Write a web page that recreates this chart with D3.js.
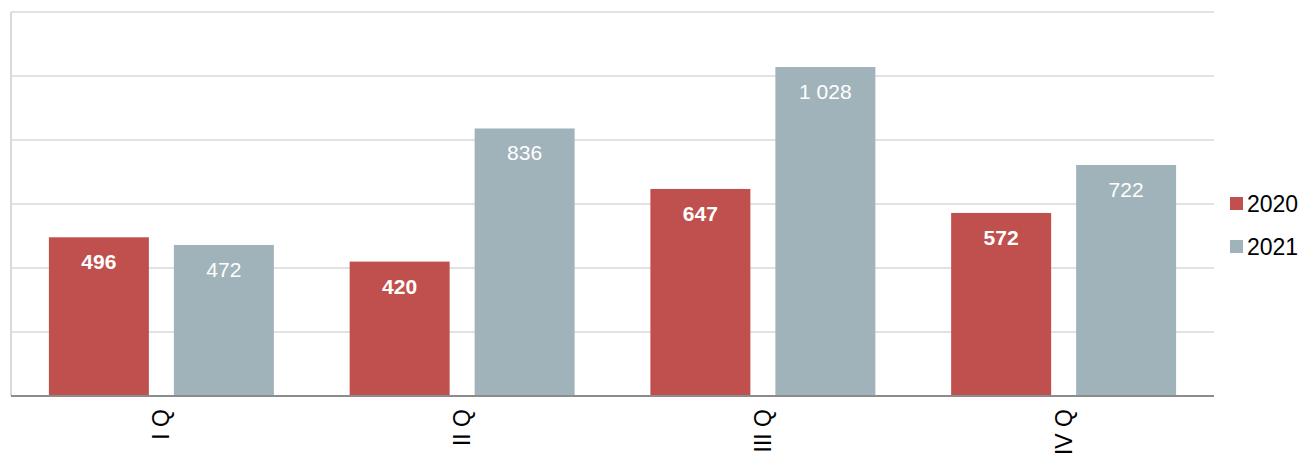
<!DOCTYPE html>
<html><head><meta charset="utf-8">
<script src="https://cdn.jsdelivr.net/npm/d3@7"></script>
<style>body{margin:0;background:#fff}svg{display:block;font-family:"Liberation Sans",Arial,sans-serif}</style>
</head><body><svg id="c" width="1302" height="462"></svg>
<script>
const categories = ["I Q", "II Q", "III Q", "IV Q"];
const seriesNames = ["2020", "2021"];
const values2020 = [496, 420, 647, 572];
const values2021 = [472, 836, 1028, 722];
const yTicks = [0, 200, 400, 600, 800, 1000, 1200];
const colors = {"2020": "#c0504d", "2021": "#a1b3ba"};

(function () {
const svg = d3.select("#c");
const pLeft = 11, pRight = 1214, pTop = 12, pBottom = 396;
const x0 = d3.scaleBand().domain(categories).range([pLeft, pRight]).padding(0);
const bw = x0.bandwidth();
const x1 = d3.scaleBand().domain(seriesNames).range([bw * 0.126, bw * 0.874]).paddingInner(0.2).paddingOuter(0);
const y = d3.scaleLinear().domain([0, 1200]).range([pBottom, pTop]);

svg.append("g").selectAll("line").data(yTicks.filter(t => t > 0)).join("line")
  .attr("x1", pLeft).attr("x2", pRight).attr("y1", d => y(d)).attr("y2", d => y(d))
  .attr("stroke", "#d9d9d9").attr("stroke-width", 1.5);
svg.append("line").attr("x1", pLeft).attr("x2", pLeft).attr("y1", y(1200)).attr("y2", pBottom)
  .attr("stroke", "#d9d9d9").attr("stroke-width", 2);

const data = categories.map((c, i) => ({cat: c, vals: [{s: "2020", v: values2020[i]}, {s: "2021", v: values2021[i]}]}));
const fmt = v => d3.format(",")(v).replace(/,/g, " ");

const g = svg.append("g").selectAll("g").data(data).join("g")
  .attr("transform", d => `translate(${x0(d.cat)},0)`);
g.selectAll("rect").data(d => d.vals).join("rect")
  .attr("x", d => x1(d.s)).attr("width", x1.bandwidth())
  .attr("y", d => y(d.v)).attr("height", d => pBottom - y(d.v))
  .attr("fill", d => colors[d.s]);
g.selectAll("text").data(d => d.vals).join("text")
  .attr("x", d => x1(d.s) + x1.bandwidth() / 2)
  .attr("y", d => y(d.v) + 32)
  .attr("text-anchor", "middle").attr("fill", "#fff")
  .attr("font-size", 21).attr("font-weight", d => d.s === "2020" ? "bold" : "normal")
  .text(d => fmt(d.v));

svg.append("line").attr("x1", pLeft).attr("x2", pRight).attr("y1", pBottom).attr("y2", pBottom)
  .attr("stroke", "#8c8c8c").attr("stroke-width", 2);

svg.append("g").selectAll("text").data(categories).join("text")
  .attr("transform", d => `translate(${x0(d) + bw / 2},409) rotate(-90)`)
  .attr("text-anchor", "end").attr("dy", "0.35em")
  .attr("font-size", 23).attr("fill", "#000").text(d => d);

const lg = svg.append("g").selectAll("g").data(seriesNames).join("g")
  .attr("transform", (d, i) => `translate(1230,${197 + i * 43})`);
lg.append("rect").attr("width", 13).attr("height", 13).attr("fill", d => colors[d]);
lg.append("text").attr("x", 17).attr("y", 15).attr("font-size", 23).attr("fill", "#000").text(d => d);
})();
</script></body></html>
